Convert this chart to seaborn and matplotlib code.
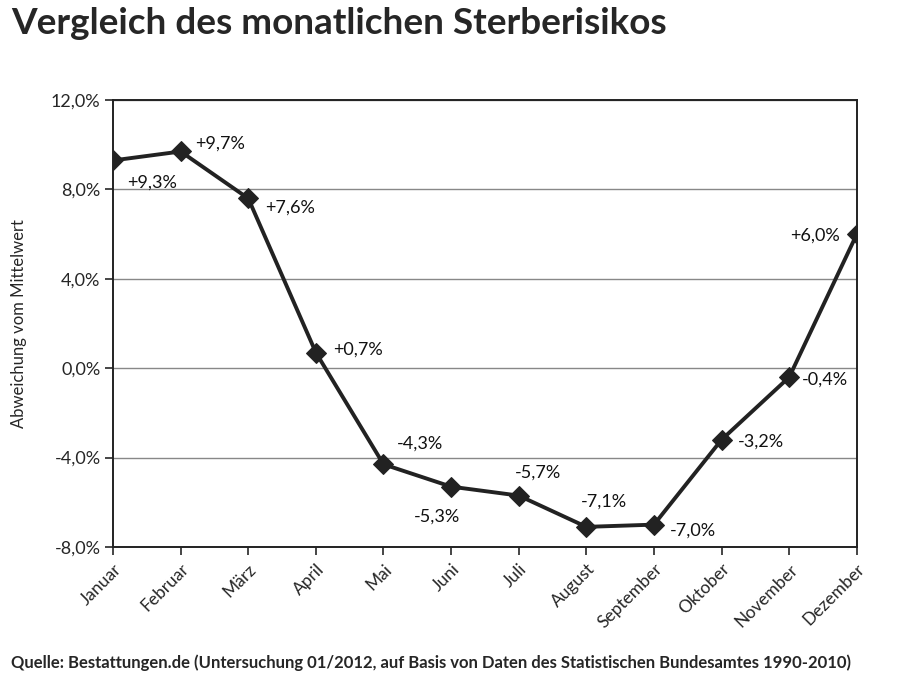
import pandas as pd
import seaborn as sns
import matplotlib.pyplot as plt
from matplotlib.ticker import FuncFormatter

# Daten
monate = ['Januar', 'Februar', 'März', 'April', 'Mai', 'Juni', 'Juli',
          'August', 'September', 'Oktober', 'November', 'Dezember']
abweichung = [9.3, 9.7, 7.6, 0.7, -4.3, -5.3, -5.7, -7.1, -7.0, -3.2, -0.4, 6.0]
y_ticks = [-8, -4, 0, 4, 8, 12]

# Label-Versatz in Pixeln (dx, dy)
label_offsets = [(39, -22), (39, 8), (42, -9), (42, 3), (37, 21), (-14, -30),
                 (19, 23), (18, 25), (39, -6), (39, -2), (36, -2), (-42, -1)]

sns.set_style('white')
plt.rcParams['font.family'] = ['Lato', 'DejaVu Sans']

df = pd.DataFrame({'Monat': monate, 'Wert': abweichung})
df['x'] = range(len(monate))

fig = plt.figure(figsize=(9, 6.81), dpi=100)
ax = fig.add_axes([0.1256, 0.1968, 0.8264, 0.6562])

sns.lineplot(data=df, x='x', y='Wert', ax=ax, color='#222222', linewidth=2.8,
             marker='D', markersize=10, markeredgecolor='#222222')

for i, (v, (dx, dy)) in enumerate(zip(abweichung, label_offsets)):
    txt = ('+' if v > 0 else '') + f'{v:.1f}%'.replace('.', ',')
    ax.annotate(txt, (i, v), xytext=(dx, dy), textcoords='offset pixels',
                ha='center', va='center', fontsize=13, color='#111111')

ax.set_xlim(0, len(monate) - 1)
ax.set_ylim(-8, 12)
ax.set_yticks(y_ticks)
ax.yaxis.set_major_formatter(FuncFormatter(lambda v, p: f'{v:.1f}%'.replace('.', ',')))
ax.set_xticks(range(len(monate)))
ax.set_xticklabels(monate, rotation=45, ha='right', rotation_mode='anchor', fontsize=12.5)
ax.tick_params(axis='y', labelsize=13, length=6, width=1.2, direction='out', left=True, pad=3)
ax.tick_params(axis='x', length=6, width=1.2, direction='out', bottom=True, pad=4)
ax.yaxis.grid(True, color='#888888', linewidth=1)
ax.set_axisbelow(True)
for s in ax.spines.values():
    s.set_color('#222222')
    s.set_linewidth(1.4)

ax.set_xlabel('')
ax.set_ylabel('')
fig.text(0.021, 0.525, 'Abweichung vom Mittelwert', fontsize=12, rotation=90,
         ha='center', va='center')

fig.text(0.012, 0.965, 'Vergleich des monatlichen Sterberisikos', fontsize=26.6,
         fontweight='bold', ha='left', va='center')
fig.text(0.012, 0.027, 'Quelle: Bestattungen.de (Untersuchung 01/2012, auf Basis von Daten des Statistischen Bundesamtes 1990-2010)',
         fontsize=12, fontweight='bold', ha='left', va='center')

fig.savefig('out.png', dpi=100)
